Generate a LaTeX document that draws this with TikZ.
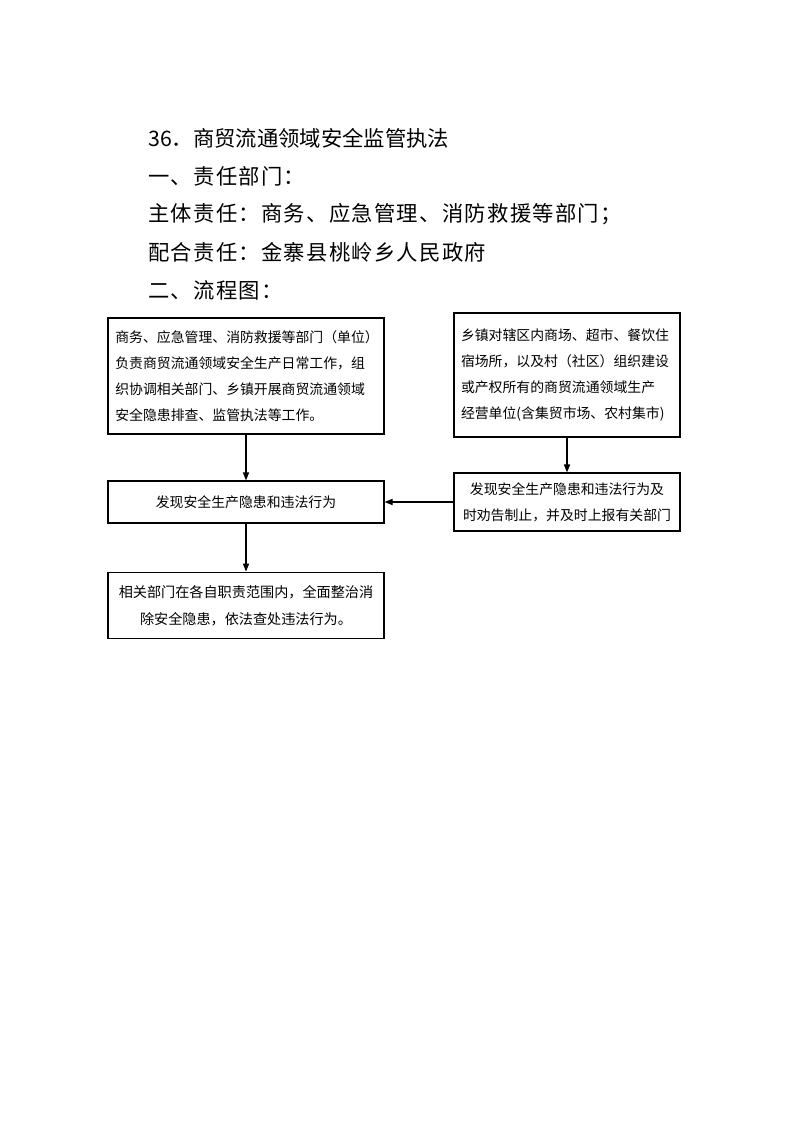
\documentclass[tikz,border=0pt]{standalone}
\usepackage{fontspec}
\setmainfont{Noto Sans CJK SC}
\usetikzlibrary{arrows.meta, positioning}

\begin{document}
\begin{tikzpicture}[x=0.75pt, y=-0.75pt,
    stepbox/.style={draw, line width=0.9pt, inner sep=0pt, fill=white,
        font=\fontsize{10.4}{19.5}\selectfont, align=center},
    flow/.style={-{Triangle[length=6pt, width=4.6pt]}, line width=0.9pt},
    heading/.style={anchor=west, inner sep=0pt, font=\fontsize{16}{16}\selectfont},
    dutyline/.style={heading, font=\fontsize{16}{16}\selectfont\addfontfeatures{LetterSpace=6}}
]
\useasboundingbox (0,0) rectangle (794,1122);

% title and duty lines
\node[heading] (title) at (148,138) {36．商贸流通领域安全监管执法};
\node[dutyline] (dept) at (148,176) {一、责任部门：};
\node[dutyline] (mainduty) at (148,214) {主体责任：商务、应急管理、消防救援等部门；};
\node[dutyline] (coduty) at (148,252) {配合责任：金寨县桃岭乡人民政府};
\node[dutyline] (chart) at (148,290) {二、流程图：};

% flow chart
\node[stepbox, minimum width=207pt, minimum height=87pt, text width=196pt, align=left] (duty) at (246,376)
    {商务、应急管理、消防救援等部门（单位）\\负责商贸流通领域安全生产日常工作，组\\织协调相关部门、乡镇开展商贸流通领域\\安全隐患排查、监管执法等工作。};
\node[stepbox, minimum width=169.5pt, minimum height=93pt, text width=159pt, align=left] (township) at (567,375)
    {乡镇对辖区内商场、超市、餐饮住\\宿场所，以及村（社区）组织建设\\或产权所有的商贸流通领域生产\\经营单位(含集贸市场、农村集市)};
\node[stepbox, minimum width=207pt, minimum height=31.5pt] (found) at (246,502) {发现安全生产隐患和违法行为};
\node[stepbox, minimum width=169.5pt, minimum height=43.5pt] (report) at (567,502)
    {发现安全生产隐患和违法行为及\\时劝告制止，并及时上报有关部门};
\node[stepbox, minimum width=207pt, minimum height=50pt, font=\fontsize{10.6}{20.5}\selectfont] (handle) at (246,605.5)
    {相关部门在各自职责范围内，全面整治消\\除安全隐患，依法查处违法行为。};

\draw[flow] (duty) -- (found);
\draw[flow] (found) -- (handle);
\draw[flow] (township) -- (report);
\draw[flow] (report) -- (found);
\end{tikzpicture}
\end{document}
